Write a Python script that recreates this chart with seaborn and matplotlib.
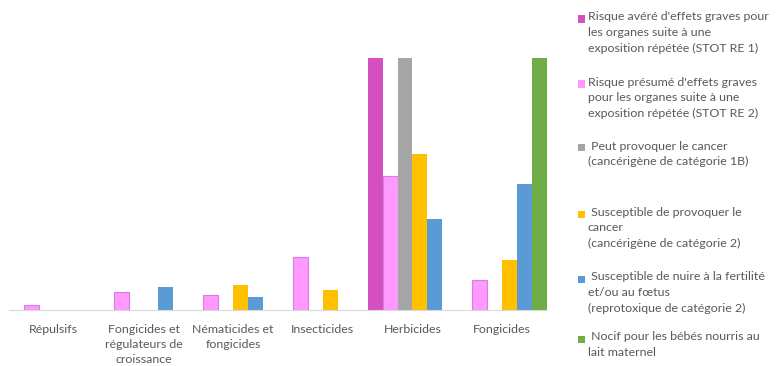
import numpy as np
import pandas as pd
import matplotlib
matplotlib.use("Agg")
import matplotlib.pyplot as plt
from matplotlib.patches import Rectangle
import seaborn as sns

categories = ["Répulsifs", "Fongicides et régulateurs de croissance",
              "Nématicides et fongicides", "Insecticides", "Herbicides", "Fongicides"]
tick_labels = ["Répulsifs", "Fongicides et\nrégulateurs de\ncroissance",
               "Nématicides et\nfongicides", "Insecticides", "Herbicides", "Fongicides"]
series = [
    "Risque avéré d'effets graves pour\nles organes suite à une\nexposition répétée (STOT RE 1)",
    "Risque présumé d'effets graves\npour les organes suite à une\nexposition répétée (STOT RE 2)",
    " Peut provoquer le cancer\n(cancérigène de catégorie 1B)",
    " Susceptible de provoquer le\ncancer\n(cancérigène de catégorie 2)",
    " Susceptible de nuire à la fertilité\net/ou au fœtus\n(reprotoxique de catégorie 2)",
    " Nocif pour les bébés nourris au\nlait maternel",
]
colors = ["#D44FBF", "#FF99FF", "#A5A5A5", "#FFC000", "#5B9BD5", "#70AD47"]

nan = np.nan
stot_re1 = [nan, nan, nan, nan, 100, nan]
stot_re2 = [2, 7, 6, 21, 53, 12]
cancer_1b = [nan, nan, nan, nan, 100, nan]
cancer_2 = [nan, nan, 10, 8, 62, 20]
repro_2 = [nan, 9, 5, nan, 36, 50]
lactation = [nan, nan, nan, nan, nan, 100]
values = [stot_re1, stot_re2, cancer_1b, cancer_2, repro_2, lactation]

rows = []
for s, vals in zip(series, values):
    for c, v in zip(categories, vals):
        rows.append({"cat": c, "series": s, "val": v})
df = pd.DataFrame(rows)

sns.set_style("white")
plt.rcParams["font.family"] = ["Lato", "DejaVu Sans"]

W, H = 779, 366
fig = plt.figure(figsize=(W / 100, H / 100), dpi=100)
ax = fig.add_axes([9 / W, 1 - 310 / H, (547 - 9) / W, (310 - 58) / H])

sns.barplot(data=df, x="cat", y="val", hue="series", order=categories,
            hue_order=series, palette=colors, saturation=1, width=1.0, gap=0,
            linewidth=0, legend=False, ax=ax)

# faint outline on the light pink bars, as in the reference
for bar in ax.containers[1]:
    bar.set_edgecolor("#D27FE0")
    bar.set_linewidth(0.8)

ax.set_ylim(0, 100)
ax.set_xlim(-0.5, len(categories) - 0.5)
ax.set_xlabel("")
ax.set_ylabel("")
ax.set_yticks([])
ax.set_xticks(range(len(categories)))
ax.set_xticklabels(tick_labels, fontsize=8.9, color="#595959", linespacing=1.45)
ax.tick_params(axis="x", length=0, pad=10)
for sp in ["top", "left", "right"]:
    ax.spines[sp].set_visible(False)
ax.spines["bottom"].set_color("#D9D9D9")
ax.spines["bottom"].set_linewidth(0.8)

# legend (manual, marker aligned with first line)
entry_y = [19, 84, 148, 214, 279, 339]
for s, col, y in zip(series, colors, entry_y):
    fig.add_artist(Rectangle((578 / W, 1 - (y + 3.5) / H), 7 / W, 7 / H,
                             transform=fig.transFigure, facecolor=col,
                             edgecolor="none"))
    fig.text(588 / W, 1 - (y - 7.5) / H, s, ha="left", va="top", fontsize=8.9,
             color="#595959", linespacing=1.5)

fig.savefig("out.png", dpi=100, facecolor="white")
